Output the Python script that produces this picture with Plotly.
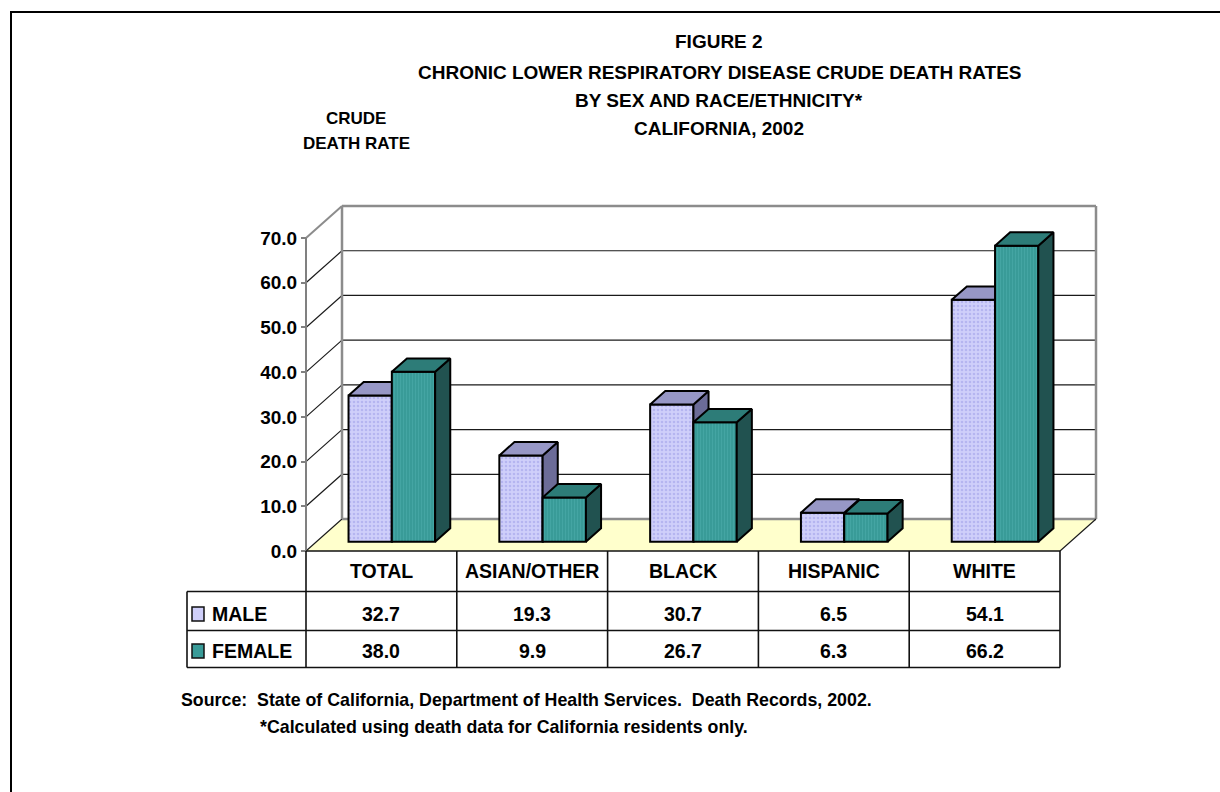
import plotly.graph_objects as go

# ---- data -------------------------------------------------------------
categories = ["TOTAL", "ASIAN/OTHER", "BLACK", "HISPANIC", "WHITE"]
male = [32.7, 19.3, 30.7, 6.5, 54.1]
female = [38.0, 9.9, 26.7, 6.3, 66.2]
series_names = ["MALE", "FEMALE"]
y_ticks = [0, 10, 20, 30, 40, 50, 60, 70]
title_lines = [
    "FIGURE 2",
    "CHRONIC LOWER RESPIRATORY DISEASE CRUDE DEATH RATES",
    "BY SEX AND RACE/ETHNICITY*",
    "CALIFORNIA, 2002",
]
axis_title_lines = ["CRUDE", "DEATH RATE"]
notes = [
    "Source:  State of California, Department of Health Services.  Death Records, 2002.",
    "*Calculated using death data for California residents only.",
]

# ---- page geometry ----------------------------------------------------
W, H = 1220, 792
X0_PX = 306.0      # left edge of the first category on the front plane
CAT_PX = 150.8     # width of one category
Y0_PX = 551.0      # rate 0 on the front plane
UNIT_PX = 4.471    # pixels per rate unit
Y_MAX = 70

x_range = [-0.5 - X0_PX / CAT_PX, -0.5 + (W - X0_PX) / CAT_PX]
y_range = [-(H - Y0_PX) / UNIT_PX, Y0_PX / UNIT_PX]

# oblique depth of the chart box, in axis units
DEPTH_X = 36.0 / CAT_PX
DEPTH_Y = 32.0 / UNIT_PX

# bar block geometry
BAR_W = 43.3 / CAT_PX
BAR_Z0 = 0.29
BAR_DZ = 0.42

FONT = "Liberation Sans, Arial, sans-serif"

FACE = {
    "MALE": dict(front="#CFCFFA", dots="#9C9CE6", top="#9797C6", side="#6C6C98"),
    "FEMALE": dict(front="#399B98", dots="#4FB0AD", top="#2D7C78", side="#215250"),
}


def px(xp):
    return xp / W


def py(yp):
    return 1 - yp / H


fig = go.Figure()


def add_series(values, name, xa, ya, offset_index):
    c = FACE[name]
    base = BAR_Z0 * DEPTH_Y
    shift = BAR_Z0 * DEPTH_X
    dx, dy = BAR_DZ * DEPTH_X, BAR_DZ * DEPTH_Y
    lefts = [i + shift - BAR_W + offset_index * BAR_W for i in range(len(values))]
    pattern = (
        dict(shape=".", bgcolor=c["front"], fgcolor=c["dots"], size=4, solidity=0.35)
        if name == "MALE"
        else dict(shape="|", bgcolor=c["front"], fgcolor=c["dots"], size=3, solidity=0.35)
    )
    fig.add_trace(go.Bar(
        x=[l + BAR_W / 2 for l in lefts], y=values, base=[base] * len(values),
        width=BAR_W, name=name, xaxis=xa, yaxis=ya,
        marker=dict(color=c["front"], pattern=pattern, line=dict(color="black", width=2)),
        hoverinfo="skip",
    ))
    tx, ty, sx, sy = [], [], [], []
    for l, v in zip(lefts, values):
        r = l + BAR_W
        top = base + v
        tx += [l, r, r + dx, l + dx, l, None]
        ty += [top, top, top + dy, top + dy, top, None]
        sx += [r, r, r + dx, r + dx, r, None]
        sy += [base, top, top + dy, base + dy, base, None]
    for xs, ys, col in ((sx, sy, c["side"]), (tx, ty, c["top"])):
        fig.add_trace(go.Scatter(
            x=xs, y=ys, mode="lines", fill="toself", fillcolor=col,
            line=dict(color="black", width=2), xaxis=xa, yaxis=ya,
            hoverinfo="skip", showlegend=False,
        ))


add_series(male, "MALE", "x", "y", 0)
add_series(female, "FEMALE", "x2", "y2", 1)

shapes = []
n = len(categories)
xl, xr = -0.5, n - 0.5
bx0, bx1 = xl + DEPTH_X, xr + DEPTH_X

# floor
shapes.append(dict(
    type="path", xref="x", yref="y", layer="below",
    path=f"M {xl},0 L {xr},0 L {bx1},{DEPTH_Y} L {bx0},{DEPTH_Y} Z",
    fillcolor="#FFFFCC", line=dict(width=0),
))
# back wall gridlines and side wall diagonals
for t in y_ticks:
    if 0 < t < Y_MAX:
        shapes.append(dict(type="line", xref="x", yref="y", layer="below",
                           x0=bx0, x1=bx1, y0=t + DEPTH_Y, y1=t + DEPTH_Y,
                           line=dict(color="#1a1a1a", width=1.2)))
    shapes.append(dict(type="line", xref="x", yref="y", layer="below",
                       x0=xl, x1=bx0, y0=t, y1=t + DEPTH_Y,
                       line=dict(color="#8c8c8c" if t == Y_MAX else "#1a1a1a",
                                 width=2 if t == Y_MAX else 1.2)))
# back wall frame
wall = "#8c8c8c"
for x0, y0, x1, y1 in (
    (bx0, DEPTH_Y, bx0, Y_MAX + DEPTH_Y),
    (bx0, Y_MAX + DEPTH_Y, bx1, Y_MAX + DEPTH_Y),
    (bx1, DEPTH_Y, bx1, Y_MAX + DEPTH_Y),
    (bx0, DEPTH_Y, bx1, DEPTH_Y),
):
    shapes.append(dict(type="line", xref="x", yref="y", layer="below",
                       x0=x0, y0=y0, x1=x1, y1=y1, line=dict(color=wall, width=2.5)))
# front value axis
shapes.append(dict(type="line", xref="x", yref="y", layer="below",
                   x0=xl, x1=xl, y0=0, y1=Y_MAX, line=dict(color="#808080", width=2)))
# floor right edge
shapes.append(dict(type="line", xref="x", yref="y", layer="below",
                   x0=xr, x1=bx1, y0=0, y1=DEPTH_Y, line=dict(color="#1a1a1a", width=1.2)))

# ---- data table ---------------------------------------------------------
ROW_TOP, ROW1, ROW2, ROW_BOT = 551.0, 591.5, 630.5, 667.5
LEG_X = 187.0
tab = dict(color="#111111", width=1.6)
shapes.append(dict(type="line", xref="x", yref="paper", x0=xl, x1=xr,
                   y0=py(ROW_TOP), y1=py(ROW_TOP), line=tab))
for yy in (ROW1, ROW2, ROW_BOT):
    shapes.append(dict(type="line", xref="paper", yref="paper", x0=px(LEG_X), x1=px(X0_PX),
                       y0=py(yy), y1=py(yy), line=tab))
    shapes.append(dict(type="line", xref="x", yref="paper", x0=xl, x1=xr,
                       y0=py(yy), y1=py(yy), line=tab))
for i in range(n + 1):
    shapes.append(dict(type="line", xref="x", yref="paper", x0=i - 0.5, x1=i - 0.5,
                       y0=py(ROW_TOP), y1=py(ROW_BOT), line=tab))
shapes.append(dict(type="line", xref="paper", yref="paper", x0=px(LEG_X), x1=px(LEG_X),
                   y0=py(ROW1), y1=py(ROW_BOT), line=tab))

annotations = []


def text(s, x, y, size, xanchor="center", xref="paper"):
    annotations.append(dict(
        text=s, x=x, y=y, xref=xref, yref="paper", showarrow=False,
        xanchor=xanchor, yanchor="middle",
        font=dict(family=FONT, size=size, color="black", weight="bold"),
    ))


for i, cat in enumerate(categories):
    text(cat, i, py(571), 19.5, xref="x")
rows = [(male, 614, 614), (female, 651, 651)]
for (vals, ty, ky), name in zip(rows, series_names):
    for i, v in enumerate(vals):
        text(f"{v:.1f}", i, py(ty), 19.5, xref="x")
    text(name, px(210), py(ty), 19.5, xanchor="left")
    shapes.append(dict(type="rect", xref="paper", yref="paper",
                       x0=px(192), x1=px(204), y0=py(ky - 7), y1=py(ky + 7),
                       fillcolor=FACE[name]["front"], line=dict(color="#111111", width=1.5)))

for line, yy in zip(title_lines, (42, 72, 100, 128)):
    text(line, px(719), py(yy), 19)
for line, yy in zip(axis_title_lines, (118, 143)):
    text(line, px(356), py(yy), 17)
text(notes[0], px(179), py(700), 17.8, xanchor="left")
text(notes[1], px(258), py(727), 17.8, xanchor="left")

# page border
shapes.append(dict(type="rect", xref="paper", yref="paper",
                   x0=px(11), x1=1.05, y0=-0.05, y1=py(12),
                   line=dict(color="black", width=2), fillcolor="rgba(0,0,0,0)"))

fig.update_layout(
    width=W, height=H, margin=dict(l=0, r=0, t=0, b=0, pad=0),
    paper_bgcolor="white", plot_bgcolor="white",
    barmode="overlay", showlegend=False,
    shapes=shapes, annotations=annotations,
    xaxis=dict(range=x_range, visible=False, fixedrange=True),
    yaxis=dict(
        range=y_range, anchor="free", position=X0_PX / W,
        tickmode="array", tickvals=y_ticks, ticktext=[f"{t:.1f}" for t in y_ticks],
        ticks="outside", ticklen=5, tickwidth=1.5, tickcolor="#808080",
        tickfont=dict(family=FONT, size=19, color="black", weight="bold"),
        showgrid=False, zeroline=False, showline=False, fixedrange=True,
    ),
    xaxis2=dict(range=x_range, overlaying="x", visible=False, fixedrange=True),
    yaxis2=dict(range=y_range, overlaying="y", visible=False, fixedrange=True),
)

fig.write_html("out.html", config={"displayModeBar": False})
